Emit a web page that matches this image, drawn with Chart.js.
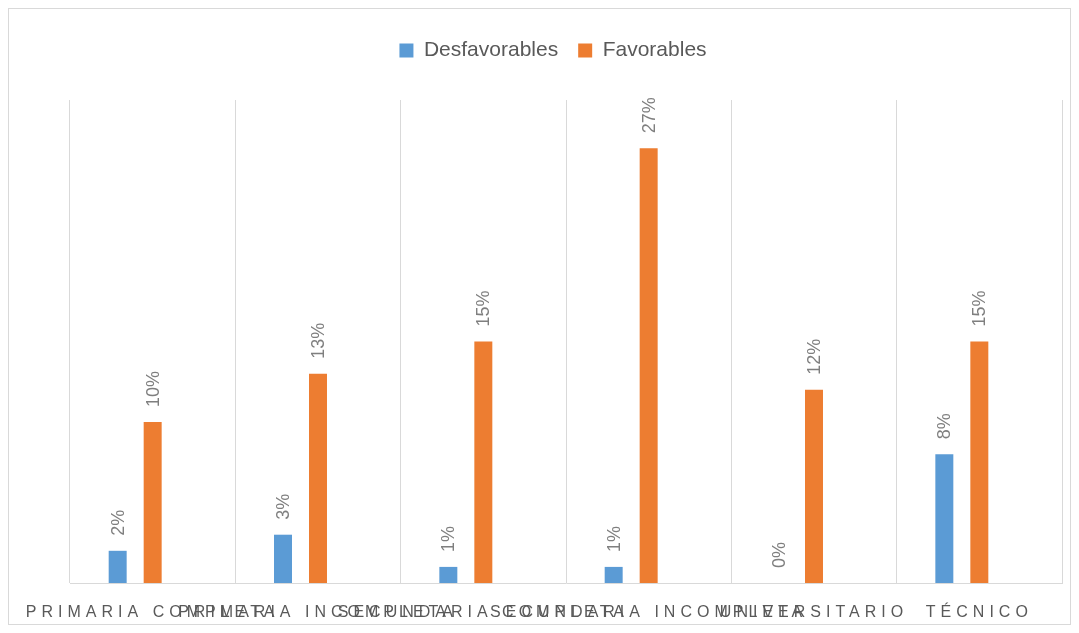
<!DOCTYPE html>
<html>
<head>
<meta charset="utf-8">
<title>Desfavorables / Favorables por nivel educativo</title>
<script src="https://cdn.jsdelivr.net/npm/chart.js@4.4.1/dist/chart.umd.min.js"></script>
<style>
  html, body { margin: 0; padding: 0; background: #fff; }
  #wrap {
    position: absolute; left: 8px; top: 8px;
    width: 1061px; height: 615px;
    border: 1px solid #d9d9d9;
  }
</style>
</head>
<body>
<div id="wrap"><canvas id="chart"></canvas></div>
<script>
const categorias = ['PRIMARIA COMPLETA', 'PRIMARIA INCOMPLETA', 'SECUNDARIA COMPLETA',
                    'SECUNDARIA INCOMPLETA', 'UNIVERSITARIO', 'TÉCNICO'];
const desfavorables = [2, 3, 1, 1, 0, 8];
const favorables = [10, 13, 15, 27, 12, 15];
const yMax = 30;

const FONT = "'Liberation Sans', Arial, sans-serif";

// etiquetas de valor giradas encima de cada barra
const etiquetas = {
    id: 'etiquetas',
    afterDatasetsDraw(chart) {
        const ctx = chart.ctx;
        ctx.save();
        ctx.font = '18px ' + FONT;
        ctx.fillStyle = '#7f7f7f';
        ctx.textAlign = 'left';
        ctx.textBaseline = 'middle';
        [0, 1].forEach(i => {
            const meta = chart.getDatasetMeta(i);
            meta.data.forEach((bar, j) => {
                const v = chart.data.datasets[i].data[j];
                ctx.save();
                ctx.translate(bar.x + 1, bar.y - 15);
                ctx.rotate(-Math.PI / 2);
                ctx.fillText(v + '%', 0, 0);
                ctx.restore();
            });
        });
        ctx.restore();
    }
};

// espaciado entre letras en el eje x, aire debajo de la leyenda
// y leyenda centrada sobre todo el lienzo
const ajustes = {
    id: 'ajustes',
    beforeLayout(chart) {
        const lg = chart.legend;
        if (lg && !lg._ajustada) {
            const fit = lg.fit;
            lg.fit = function () {
                fit.call(this);
                this.height += 29;
            };
            const draw = lg.draw;
            lg.draw = function () {
                const l = this.left, r = this.right;
                this.left -= 13;
                this.right -= 13;
                draw.call(this);
                this.left = l;
                this.right = r;
            };
            lg._ajustada = true;
        }
    },
    beforeDraw(chart) {
        const sc = chart.scales.x;
        if (sc._espaciado) return;
        const orig = sc.drawLabels;
        sc.drawLabels = function (area) {
            this.ctx.save();
            this.ctx.letterSpacing = '5px';
            orig.call(this, area);
            this.ctx.restore();
        };
        sc._espaciado = true;
    }
};

const ctx = document.querySelector('#chart').getContext('2d');
const chart = new Chart(ctx, {
    type: 'bar',
    data: {
        labels: categorias,
        datasets: [{
            label: 'Desfavorables',
            data: desfavorables,
            backgroundColor: '#5b9bd5'
        },
        {
            label: 'Favorables',
            data: favorables,
            backgroundColor: '#ed7d31'
        },
        {
            label: '',
            data: categorias.map(() => null),
            backgroundColor: 'rgba(0,0,0,0)'
        }]
    },
    options: {
        responsive: true,
        maintainAspectRatio: false,
        animation: false,
        categoryPercentage: 0.635,
        barPercentage: 0.514,
        layout: { padding: { left: 61, right: 8, top: 11, bottom: 2 } },
        plugins: {
            tooltip: { enabled: false },
            legend: {
                position: 'top',
                labels: {
                    filter: item => item.text !== '',
                    boxWidth: 14,
                    boxHeight: 14,
                    padding: 20,
                    color: '#595959',
                    font: { family: FONT, size: 21 }
                }
            }
        },
        scales: {
            x: {
                offset: true,
                grid: { offset: true, color: '#d9d9d9', drawTicks: false },
                border: { color: '#d9d9d9' },
                ticks: {
                    autoSkip: false,
                    maxRotation: 0,
                    minRotation: 0,
                    padding: 20,
                    color: '#595959',
                    font: { family: FONT, size: 16 }
                },
                afterFit: scale => { scale.height = 39; }
            },
            y: {
                display: false,
                min: 0,
                max: yMax
            }
        }
    },
    plugins: [etiquetas, ajustes]
});
</script>
</body>
</html>
